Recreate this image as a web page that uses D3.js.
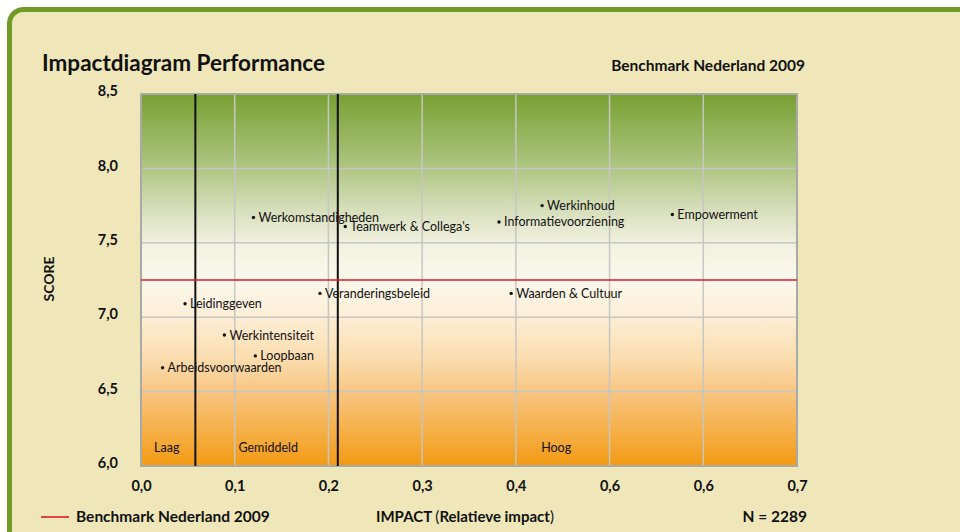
<!DOCTYPE html>
<html>
<head>
<meta charset="utf-8">
<script src="https://cdn.jsdelivr.net/npm/d3@7"></script>
<style>
  html, body { margin: 0; padding: 0; background: #ffffff; }
  svg { display: block; font-family: Lato, "Open Sans", sans-serif; }
</style>
</head>
<body>
<svg id="chart" width="960" height="532"></svg>
<script>
// Aspects: relative impact (x) and score (y)
const categories = [
  "Werkomstandigheden", "Teamwerk & Collega's", "Werkinhoud", "Informatievoorziening",
  "Empowerment", "Veranderingsbeleid", "Waarden & Cultuur", "Leidinggeven",
  "Werkintensiteit", "Loopbaan", "Arbeidsvoorwaarden"
];
const impactValues = [0.120, 0.218, 0.428, 0.382, 0.567, 0.191, 0.395, 0.047, 0.089, 0.122, 0.023];
const scoreValues  = [7.67, 7.61, 7.75, 7.64, 7.69, 7.16, 7.16, 7.09, 6.88, 6.74, 6.66];

const benchmarkScore = 7.25;
const impactBounds = [0.058, 0.210];           // borders between Laag / Gemiddeld / Hoog
const zoneLabels = ["Laag", "Gemiddeld", "Hoog"];
const zoneLabelImpact = [0.014, 0.104, 0.427];

const xTickValues = [0, 0.1, 0.2, 0.3, 0.4, 0.5, 0.6, 0.7];
const xTickLabels = ["0,0", "0,1", "0,2", "0,3", "0,4", "0,6", "0,6", "0,7"];
const yTickValues = [6.0, 6.5, 7.0, 7.5, 8.0, 8.5];
const yTickLabels = ["6,0", "6,5", "7,0", "7,5", "8,0", "8,5"];

const svg = d3.select("#chart");

// panel background with green rounded frame
svg.append("rect")
  .attr("x", 9.5).attr("y", 9.5)
  .attr("width", 1000).attr("height", 600)
  .attr("rx", 14).attr("ry", 14)
  .attr("fill", "#efe7ba")
  .attr("stroke", "#719b24")
  .attr("stroke-width", 5);

const plot = { left: 141, top: 94, right: 797, bottom: 466 };

const x = d3.scaleLinear().domain([0, 0.7]).range([plot.left, plot.right]);
const y = d3.scaleLinear().domain([6.0, 8.5]).range([plot.bottom, plot.top]);

// vertical gradient: green (high score) → white → orange (low score)
const defs = svg.append("defs");
const grad = defs.append("linearGradient")
  .attr("id", "scoreGrad").attr("x1", 0).attr("y1", 0).attr("x2", 0).attr("y2", 1);
[
  [0.00, "#78a032"],
  [0.20, "#afc683"],
  [0.30, "#d3dcb6"],
  [0.40, "#f1f1e0"],
  [0.50, "#fbf8ec"],
  [0.60, "#fdeed6"],
  [0.70, "#fbdfb3"],
  [0.80, "#f8c683"],
  [1.00, "#f39b13"]
].forEach(([o, c]) => grad.append("stop").attr("offset", o).attr("stop-color", c));

svg.append("rect")
  .attr("x", plot.left).attr("y", plot.top)
  .attr("width", plot.right - plot.left).attr("height", plot.bottom - plot.top)
  .attr("fill", "url(#scoreGrad)");

// grid lines
const grid = svg.append("g").attr("stroke", "#c6c6c2").attr("stroke-width", 1.5);
grid.selectAll("line.v").data(xTickValues.slice(1, -1)).join("line")
  .attr("x1", d => x(d)).attr("x2", d => x(d))
  .attr("y1", plot.top).attr("y2", plot.bottom);
grid.selectAll("line.h").data(yTickValues.slice(1, -1)).join("line")
  .attr("x1", plot.left).attr("x2", plot.right)
  .attr("y1", d => y(d)).attr("y2", d => y(d));

// plot border
svg.append("rect")
  .attr("x", plot.left).attr("y", plot.top)
  .attr("width", plot.right - plot.left).attr("height", plot.bottom - plot.top)
  .attr("fill", "none").attr("stroke", "#a9a9a5").attr("stroke-width", 2);

// impact zone borders
svg.selectAll("line.bound").data(impactBounds).join("line")
  .attr("x1", d => x(d)).attr("x2", d => x(d))
  .attr("y1", plot.top).attr("y2", plot.bottom)
  .attr("stroke", "#111").attr("stroke-width", 2);

// benchmark line
svg.append("line")
  .attr("x1", plot.left).attr("x2", plot.right)
  .attr("y1", y(benchmarkScore)).attr("y2", y(benchmarkScore))
  .attr("stroke", "#e0192a").attr("stroke-width", 1.6);

// zone labels
svg.selectAll("text.zone").data(zoneLabels).join("text")
  .attr("x", (d, i) => x(zoneLabelImpact[i]))
  .attr("y", 452)
  .attr("font-size", 12.5).attr("fill", "#111")
  .text(d => d);

// points with labels
const pts = svg.append("g");
categories.forEach((name, i) => {
  const px = x(impactValues[i]), py = y(scoreValues[i]);
  pts.append("circle").attr("cx", px).attr("cy", py).attr("r", 1.7).attr("fill", "#111");
  pts.append("text")
    .attr("x", px + 5).attr("y", py + 4.5)
    .attr("font-size", 12.5).attr("fill", "#111")
    .text(name);
});

// axes
const xAxis = d3.axisBottom(x).tickValues(xTickValues)
  .tickFormat((d, i) => xTickLabels[i]).tickSize(0).tickPadding(0);
const gx = svg.append("g").attr("transform", `translate(0,${plot.bottom + 15})`).call(xAxis);
gx.select(".domain").remove();
gx.selectAll("text").attr("font-size", 14.5).attr("font-weight", "bold").attr("fill", "#111")
  .attr("font-family", "Lato, sans-serif");

const yAxis = d3.axisLeft(y).tickValues(yTickValues)
  .tickFormat((d, i) => yTickLabels[i]).tickSize(0).tickPadding(23);
const gy = svg.append("g").attr("transform", `translate(${plot.left},0)`).call(yAxis);
gy.select(".domain").remove();
gy.selectAll("text").attr("font-size", 14.5).attr("font-weight", "bold").attr("fill", "#111")
  .attr("font-family", "Lato, sans-serif").attr("dy", "0.12em");

// titles
svg.append("text").attr("x", 42).attr("y", 71)
  .attr("font-size", 22.5).attr("font-weight", "bold").attr("fill", "#111")
  .text("Impactdiagram Performance");
svg.append("text").attr("x", 805).attr("y", 71).attr("text-anchor", "end")
  .attr("font-size", 15.5).attr("font-weight", "bold").attr("fill", "#111")
  .text("Benchmark Nederland 2009");

svg.append("text")
  .attr("transform", "translate(54,279) rotate(-90)")
  .attr("text-anchor", "middle")
  .attr("font-size", 14).attr("font-weight", "bold").attr("fill", "#111")
  .text("SCORE");

// footer: legend, axis title, sample size
svg.append("line").attr("x1", 41).attr("x2", 69).attr("y1", 517).attr("y2", 517)
  .attr("stroke", "#e0192a").attr("stroke-width", 1.6);
svg.append("text").attr("x", 76).attr("y", 522)
  .attr("font-size", 15.5).attr("font-weight", "bold").attr("fill", "#111")
  .text("Benchmark Nederland 2009");

const xt = svg.append("text").attr("x", 376).attr("y", 522)
  .attr("font-size", 15).attr("fill", "#111");
xt.append("tspan").attr("font-weight", "bold").text("IMPACT ");
xt.append("tspan").text("(");
xt.append("tspan").attr("font-weight", "bold").text("Relatieve impact");
xt.append("tspan").text(")");

svg.append("text").attr("x", 807).attr("y", 522).attr("text-anchor", "end")
  .attr("font-size", 15.5).attr("font-weight", "bold").attr("fill", "#111")
  .text("N = 2289");
</script>
</body>
</html>
